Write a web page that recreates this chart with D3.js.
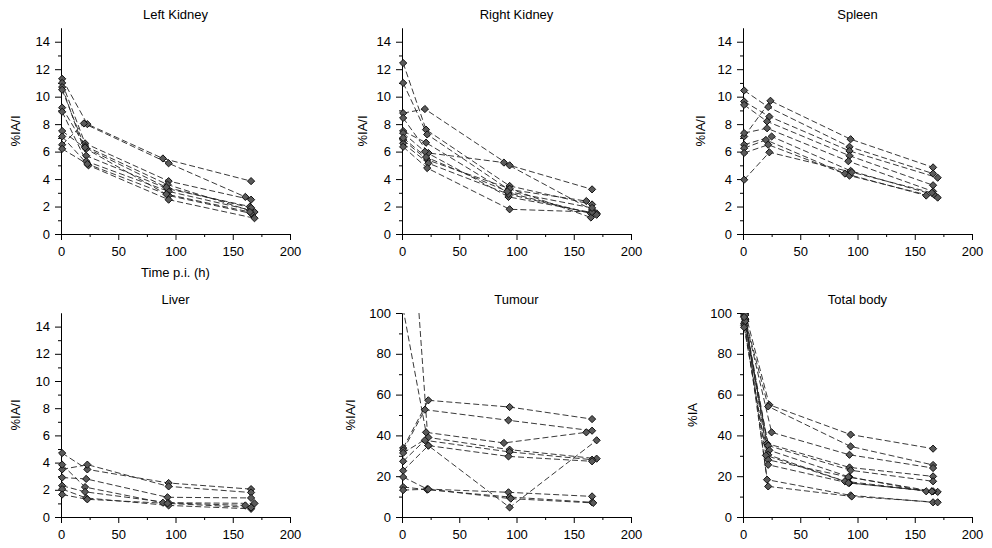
<!DOCTYPE html>
<html>
<head>
<meta charset="utf-8">
<script src="https://cdn.jsdelivr.net/npm/d3@7"></script>
<style>
  html, body { margin: 0; padding: 0; background: #fff; }
  svg { display: block; font-family: "Liberation Sans", Arial, sans-serif; }
</style>
</head>
<body>
<svg id="chart" width="992" height="548"></svg>
<script>
// ---- Data: each animal is a list of [time p.i. (h), value] ----
const leftKidney = [
  [[1,11.3],[23,8.0],[89,5.5],[166,3.85]],
  [[1,6.5],[20,8.05],[94,5.15],[161,2.7]],
  [[1,11.0],[21,6.6],[94,3.85],[166,2.5]],
  [[1,10.7],[22,5.7],[93,3.3],[165,2.0]],
  [[1,9.2],[21,6.4],[93,3.6],[169,1.6]],
  [[1,8.9],[22,5.3],[94,3.1],[165,1.75]],
  [[1,7.5],[22,6.2],[94,2.8],[166,1.5]],
  [[1,7.1],[24,5.0],[94,2.5],[169,1.15]],
  [[1,10.5],[21,6.3],[92,3.4],[166,1.9]],
  [[1,6.2],[23,5.1],[92,2.9],[165,1.6]]
];
const rightKidney = [
  [[1,12.45],[21,7.6],[94,3.5],[166,2.15]],
  [[1,11.0],[22,7.25],[93,3.25],[161,2.4]],
  [[1,8.8],[20,9.1],[94,5.0],[166,3.25]],
  [[1,8.45],[23,5.9],[89,5.2],[166,1.75]],
  [[1,7.5],[21,6.65],[93,3.0],[165,1.5]],
  [[1,7.35],[20,6.0],[93,2.7],[170,1.5]],
  [[1,6.85],[22,5.4],[94,3.3],[165,1.2]],
  [[1,6.6],[23,5.15],[93,2.9],[170,1.4]],
  [[1,6.35],[22,4.8],[94,1.8],[166,1.6]],
  [[1,7.0],[21,5.6],[92,3.1],[166,1.9]]
];
const spleen = [
  [[1,7.1],[24,9.7],[94,6.9],[166,4.85]],
  [[1,10.45],[22,9.25],[93,6.35],[166,4.4]],
  [[1,9.65],[23,8.55],[93,6.05],[170,4.1]],
  [[1,9.4],[21,8.2],[93,5.7],[166,3.55]],
  [[1,7.35],[21,7.7],[92,5.3],[166,3.1]],
  [[1,6.5],[25,7.1],[94,4.6],[167,2.85]],
  [[1,6.25],[20,6.85],[89,4.4],[160,2.8]],
  [[1,5.9],[22,6.5],[93,4.25],[170,2.65]],
  [[1,3.95],[23,5.95],[95,4.5],[165,3.0]]
];
const liver = [
  [[1,4.7],[23,3.5],[94,2.5],[166,2.05]],
  [[1,3.5],[23,3.85],[94,2.25],[166,1.8]],
  [[1,3.85],[21,2.2],[89,1.05],[161,0.85]],
  [[1,2.9],[22,2.8],[93,1.45],[166,1.4]],
  [[1,2.3],[21,1.85],[94,1.05],[169,1.0]],
  [[1,2.05],[22,1.4],[94,0.85],[166,0.6]],
  [[1,1.65],[23,1.3],[93,1.0],[166,0.7]]
];
const tumour = [
  [[1,33.8],[23,57.2],[94,53.9],[166,48]],
  [[1,32.7],[20,52.6],[93,47.4],[166,42.3]],
  [[1,102],[21,41.5],[89,36.3],[161,41.5]],
  [[1,31.4],[23,39],[94,33],[170,28.6]],
  [[1,27.3],[20,37.6],[94,31.9],[166,28.1]],
  [[1,22.7],[23,35],[93,29.7],[166,27.3]],
  [[1,19.6],[22,13.7],[93,12.1],[166,10.1]],
  [[1,14.7],[22,13.4],[94,9.8],[166,7.2]],
  [[1,13.2],[23,13.6],[95,9],[167,6.9]],
  [[1,210],[23,35],[94,4.7],[170,37.6]]
];
const totalBody = [
  [[2,100],[23,55],[94,40.4],[166,33.5]],
  [[1,99],[22,54.2],[94,34.6],[166,25.5]],
  [[2,97],[25,41.5],[93,30.5],[166,24]],
  [[1,98],[21,36],[93,24.3],[166,19.9]],
  [[2,96],[22,35],[94,22.9],[166,17.5]],
  [[1,95],[23,32.7],[93,19.6],[160,12.6]],
  [[2,97],[22,30.5],[89,17.5],[165,12.6]],
  [[1,94],[20,30.2],[93,16.7],[170,12.3]],
  [[2,96],[22,28],[92,19.6],[166,12.6]],
  [[1,93],[22,25.6],[92,16.7],[165,12.5]],
  [[2,99],[21,18.3],[94,10.6],[166,7.2]],
  [[1,98],[22,15],[95,10.1],[170,7.2]]
];

const xMajorTicks = [0, 50, 100, 150, 200];
const xMinorTicks = [25, 75, 125, 175];
const organYMajor = [0, 2, 4, 6, 8, 10, 12, 14];
const organYMinor = [1, 3, 5, 7, 9, 11, 13];
const pctYMajor = [0, 20, 40, 60, 80, 100];
const pctYMinor = [10, 30, 50, 70, 90];

const titles = ["Left Kidney", "Right Kidney", "Spleen", "Liver", "Tumour", "Total body"];
const yLabels = ["%IA/I", "%IA/I", "%IA/I", "%IA/I", "%IA/I", "%IA"];
const xTitle = "Time p.i. (h)";

// ---- Layout ----
const panels = [
  { data: leftKidney,  left: 61,  top: 28,  bottom: 234, yMax: 15,  yMaj: organYMajor, yMin: organYMinor, labelOff: 46, xTitle: true },
  { data: rightKidney, left: 402, top: 28,  bottom: 234, yMax: 15,  yMaj: organYMajor, yMin: organYMinor, labelOff: 40 },
  { data: spleen,      left: 743, top: 28,  bottom: 234, yMax: 15,  yMaj: organYMajor, yMin: organYMinor, labelOff: 43 },
  { data: liver,       left: 61,  top: 313, bottom: 517, yMax: 15,  yMaj: organYMajor, yMin: organYMinor, labelOff: 46 },
  { data: tumour,      left: 402, top: 313, bottom: 517, yMax: 100, yMaj: pctYMajor,   yMin: pctYMinor,   labelOff: 52 },
  { data: totalBody,   left: 743, top: 313, bottom: 517, yMax: 100, yMaj: pctYMajor,   yMin: pctYMinor,   labelOff: 51 }
];
const plotW = 229;
const FONT = "13px";

const svg = d3.select("#chart");
const defs = svg.append("defs");

panels.forEach((p, i) => {
  const h = p.bottom - p.top;
  const x = d3.scaleLinear().domain([0, 200]).range([0, plotW]);
  const y = d3.scaleLinear().domain([0, p.yMax]).range([h, 0]);
  const g = svg.append("g").attr("transform", `translate(${p.left},${p.top})`);

  defs.append("clipPath").attr("id", "clip" + i)
    .append("rect").attr("x", -12).attr("y", 0).attr("width", plotW + 24).attr("height", h + 12);

  // axes
  const yMinorAxis = d3.axisLeft(y).tickValues(p.yMin).tickSize(3).tickFormat("").tickSizeOuter(0);
  const yAxis = d3.axisLeft(y).tickValues(p.yMaj).tickSize(6).tickPadding(5).tickSizeOuter(0);
  const xMinorAxis = d3.axisBottom(x).tickValues(xMinorTicks).tickSize(3).tickFormat("").tickSizeOuter(0);
  const xAxis = d3.axisBottom(x).tickValues(xMajorTicks).tickSize(6).tickPadding(7).tickSizeOuter(0);

  const styleAxis = sel => {
    sel.selectAll("path.domain").attr("stroke", "#000").attr("stroke-width", 1);
    sel.selectAll(".tick line").attr("stroke", "#000");
    sel.selectAll("text").attr("fill", "#000").style("font-size", FONT)
      .style("font-family", '"Liberation Sans", Arial, sans-serif');
  };
  g.append("g").attr("transform", `translate(0,${h})`).call(xMinorAxis).call(styleAxis);
  g.append("g").attr("transform", `translate(0,${h})`).call(xAxis).call(styleAxis);
  g.append("g").call(yMinorAxis).call(styleAxis);
  g.append("g").call(yAxis).call(styleAxis);

  // title
  g.append("text").attr("x", plotW / 2).attr("y", -9).attr("text-anchor", "middle")
    .style("font-size", FONT).attr("fill", "#000").text(titles[i]);

  // y label
  g.append("text").attr("transform", `translate(${-p.labelOff},${h / 2}) rotate(-90)`)
    .attr("text-anchor", "middle").attr("dy", "0.35em")
    .style("font-size", FONT).attr("fill", "#000").text(yLabels[i]);

  if (p.xTitle) {
    g.append("text").attr("x", plotW / 2).attr("y", h + 43).attr("text-anchor", "middle")
      .style("font-size", FONT).attr("fill", "#000").text(xTitle);
  }

  // series
  const plot = g.append("g").attr("clip-path", `url(#clip${i})`);
  const line = d3.line().x(d => x(d[0])).y(d => y(d[1]));
  plot.selectAll("path.series").data(p.data).join("path")
    .attr("class", "series")
    .attr("d", line)
    .attr("fill", "none")
    .attr("stroke", "#222")
    .attr("stroke-width", 0.9)
    .attr("stroke-dasharray", "6,3");

  const diamond = "M0,-3.6L3.6,0L0,3.6L-3.6,0Z";
  plot.selectAll("g.animal").data(p.data).join("g").attr("class", "animal")
    .selectAll("path").data(d => d).join("path")
    .attr("d", diamond)
    .attr("transform", d => `translate(${x(d[0])},${y(d[1])})`)
    .attr("fill", "#5a5a5a")
    .attr("stroke", "#111")
    .attr("stroke-width", 1);
});
</script>
</body>
</html>
